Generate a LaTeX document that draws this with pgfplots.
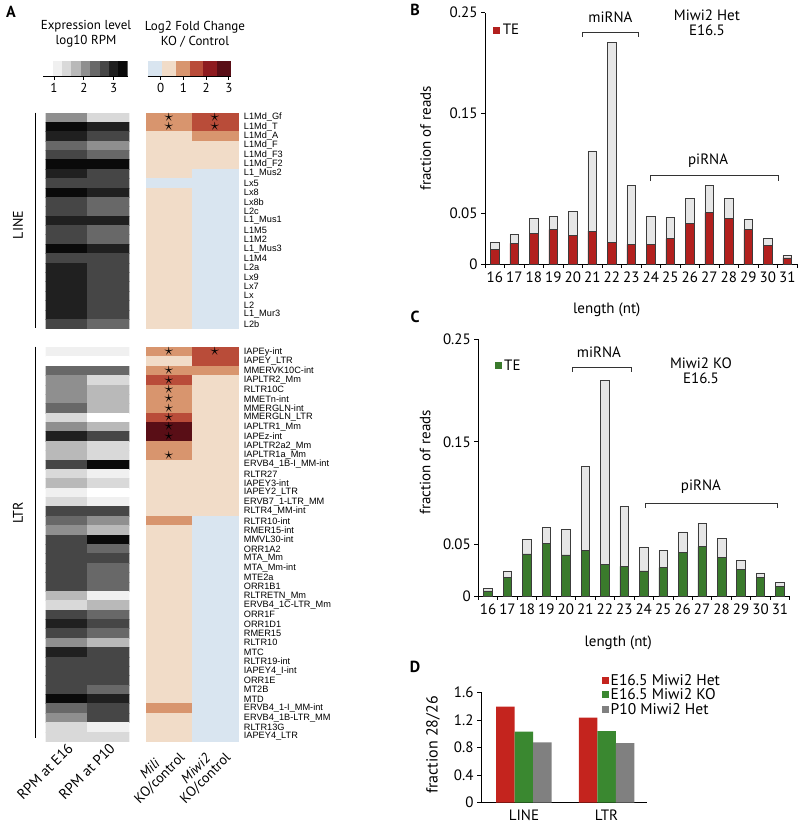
\documentclass[border=0pt]{standalone}
\usepackage{pgfplots}
\pgfplotsset{compat=1.18}
\usepackage{fontspec}
\setmainfont{PT Sans}
\newfontfamily\arial{Liberation Sans}
\definecolor{tered}{RGB}{178,32,30}
\definecolor{tegreen}{RGB}{58,122,44}
\definecolor{barfill}{RGB}{230,230,230}
\definecolor{barline}{RGB}{60,60,60}
\definecolor{dred}{RGB}{196,36,30}
\definecolor{dgreen}{RGB}{58,136,48}
\definecolor{dgray}{RGB}{128,128,128}
\definecolor{g0}{RGB}{255,255,255}
\definecolor{g1}{RGB}{240,240,240}
\definecolor{g2}{RGB}{217,217,217}
\definecolor{g3}{RGB}{185,185,185}
\definecolor{g4}{RGB}{143,143,143}
\definecolor{g5}{RGB}{104,104,104}
\definecolor{g6}{RGB}{70,70,70}
\definecolor{g7}{RGB}{32,32,32}
\definecolor{g8}{RGB}{10,10,10}
\definecolor{f0}{RGB}{217,229,240}
\definecolor{f1}{RGB}{241,220,200}
\definecolor{f2}{RGB}{216,149,110}
\definecolor{f3}{RGB}{185,76,57}
\definecolor{f4}{RGB}{142,27,31}
\definecolor{f5}{RGB}{89,14,22}
\pgfplotsset{
 colormap={greys}{rgb255=(255,255,255) rgb255=(240,240,240) rgb255=(217,217,217) rgb255=(185,185,185) rgb255=(143,143,143) rgb255=(104,104,104) rgb255=(70,70,70) rgb255=(32,32,32) rgb255=(10,10,10)},
 colormap={fc}{rgb255=(217,229,240) rgb255=(241,220,200) rgb255=(216,149,110) rgb255=(185,76,57) rgb255=(142,27,31) rgb255=(89,14,22)},
}
\begin{document}
\begin{tikzpicture}
\path[use as bounding box] (0pt,0pt) rectangle (800pt,828pt);
% ---------------- Panel D ----------------
\node[font=\bfseries\fontsize{16}{16}\selectfont] at (415pt,161.3pt) {D};
\begin{axis}[scale only axis, width=166pt, height=110.4pt, at={(481pt,25.3pt)}, anchor=south west, clip=false,
 xmin=-0.52, xmax=1.49, ymin=0, ymax=1.6,
 axis x line*=bottom, axis y line*=left, axis line style={-, line width=0.8pt, black},
 ytick={0,0.4,0.8,1.2,1.6}, yticklabels={0,0.4,0.8,1.2,1.6},
 xtick={0,1}, xticklabels={LINE,LTR}, major x tick style={draw=none},
 y tick style={line width=0.8pt, black},
 tick align=outside, major tick length=4pt,
 tick label style={font=\fontsize{15}{18}\selectfont},
 /pgf/number format/assume math mode=true,
 ylabel={fraction 28/26},
 ylabel style={at={(axis description cs:-0.289,0.523)}, anchor=center, font=\fontsize{16}{18}\selectfont},
 ybar=0pt, bar width=0.224,
 legend style={at={(0.729,1.18)}, anchor=north west, draw=none, fill=none, inner sep=0pt,
  font=\fontsize{15.5}{16}\selectfont, row sep=-1pt, nodes={inner sep=1.5pt}},
 legend cell align=left,
 legend image code/.code={\draw[#1,draw=none] (0pt,-3.5pt) rectangle (7pt,3.5pt);}]
\addplot[fill=dred, draw=none] coordinates {(0,1.392) (1,1.232)};
\addplot[fill=dgreen, draw=none] coordinates {(0,1.03) (1,1.039)};
\addplot[fill=dgray, draw=none] coordinates {(0,0.875) (1,0.865)};
\legend{E16.5 Miwi2 Het, E16.5 Miwi2 KO, P10 Miwi2 Het}
\end{axis}
% ---------------- Panel B ----------------
\node[font=\bfseries\fontsize{16}{16}\selectfont] at (415pt,818pt) {B};
\begin{axis}[scale only axis, width=312pt, height=251.3pt, at={(485pt,564pt)}, anchor=south west, clip=false,
 xmin=15.5, xmax=31.5, ymin=0, ymax=0.25,
 axis x line*=bottom, axis y line*=left, axis line style={-, line width=0.8pt, black},
 xtick={16,...,31}, major x tick style={draw=none},
 minor xtick={15.5,16.5,...,31.5}, minor tick style={line width=0.8pt, black},
 minor tick length=4pt, major tick length=4pt, tick align=outside,
 y tick style={line width=0.8pt, black},
 ytick={0,0.05,0.15,0.25}, yticklabels={0,0.05,0.15,0.25},
 tick label style={font=\fontsize{15}{18}\selectfont},
 /pgf/number format/assume math mode=true,
 xlabel={length (nt)}, ylabel={fraction of reads},
 xlabel style={at={(axis description cs:0.39,-0.183)}, anchor=center, font=\fontsize{15}{18}\selectfont},
 ylabel style={at={(axis description cs:-0.19,0.5)}, anchor=center, font=\fontsize{15}{18}\selectfont},
 legend style={at={(0.026,0.931)}, anchor=west, draw=none, fill=none, inner sep=0pt, nodes={inner sep=2.5pt}, font=\fontsize{15}{18}\selectfont},
 legend image code/.code={\draw[#1,draw=none] (0pt,-3.5pt) rectangle (7pt,3.5pt);}]
\addplot[ybar, bar width=0.44, bar shift=0pt, fill=barfill, draw=barline, line width=0.6pt, forget plot] coordinates {
(16,0.0215) (17,0.0295) (18,0.045) (19,0.0473) (20,0.0523) (21,0.1126) (22,0.2205) (23,0.078)
(24,0.0473) (25,0.0464) (26,0.0656) (27,0.078) (28,0.0656) (29,0.0444) (30,0.0252) (31,0.0086)};
\addplot[ybar, bar width=0.44, bar shift=0pt, fill=tered, draw=barline, line width=0.6pt] coordinates {
(16,0.0149) (17,0.0205) (18,0.0305) (19,0.0341) (20,0.0285) (21,0.0328) (22,0.0215) (23,0.0195)
(24,0.0195) (25,0.0252) (26,0.0407) (27,0.051) (28,0.0454) (29,0.0341) (30,0.0182) (31,0.006)};
\addlegendentry{TE}
\draw[line width=0.8pt, black!80] (axis cs:20.47,0.226) -- (axis cs:20.47,0.2305) -- (axis cs:23.39,0.2305) -- (axis cs:23.39,0.226);
\node[font=\fontsize{15}{18}\selectfont] at (axis cs:21.93,0.2457) {miRNA};
\node[align=center, font=\fontsize{15}{15}\selectfont] at (axis cs:26.88,0.2402) {Miwi2 Het\\E16.5};
\draw[line width=0.8pt, black!80] (axis cs:24.0,0.0825) -- (axis cs:24.0,0.0878) -- (axis cs:30.57,0.0878) -- (axis cs:30.57,0.0825);
\node[font=\fontsize{15}{18}\selectfont] at (axis cs:26.94,0.1024) {piRNA};
\end{axis}
% ---------------- Panel C ----------------
\node[font=\bfseries\fontsize{16}{16}\selectfont] at (415pt,511.3pt) {C};
\begin{axis}[scale only axis, width=311.4pt, height=257pt, at={(478.3pt,232pt)}, anchor=south west, clip=false,
 xmin=15.5, xmax=31.5, ymin=0, ymax=0.25,
 axis x line*=bottom, axis y line*=left, axis line style={-, line width=0.8pt, black},
 xtick={16,...,31}, major x tick style={draw=none},
 minor xtick={15.5,16.5,...,31.5}, minor tick style={line width=0.8pt, black},
 minor tick length=4pt, major tick length=4pt, tick align=outside,
 y tick style={line width=0.8pt, black},
 ytick={0,0.05,0.15,0.25}, yticklabels={0,0.05,0.15,0.25},
 tick label style={font=\fontsize{15}{18}\selectfont},
 /pgf/number format/assume math mode=true,
 xlabel={length (nt)}, ylabel={fraction of reads},
 xlabel style={at={(axis description cs:0.449,-0.183)}, anchor=center, font=\fontsize{15}{18}\selectfont},
 ylabel style={at={(axis description cs:-0.171,0.52)}, anchor=center, font=\fontsize{15}{18}\selectfont},
 legend style={at={(0.052,0.895)}, anchor=west, draw=none, fill=none, inner sep=0pt, nodes={inner sep=2.5pt}, font=\fontsize{15}{18}\selectfont},
 legend image code/.code={\draw[#1,draw=none] (0pt,-3.5pt) rectangle (7pt,3.5pt);}]
\addplot[ybar, bar width=0.44, bar shift=0pt, fill=barfill, draw=barline, line width=0.6pt, forget plot] coordinates {
(16,0.0075) (17,0.0245) (18,0.0549) (19,0.0668) (20,0.0649) (21,0.1264) (22,0.2095) (23,0.0872)
(24,0.0477) (25,0.0442) (26,0.0623) (27,0.071) (28,0.0558) (29,0.035) (30,0.0225) (31,0.013)};
\addplot[ybar, bar width=0.44, bar shift=0pt, fill=tegreen, draw=barline, line width=0.6pt] coordinates {
(16,0.005) (17,0.0178) (18,0.041) (19,0.051) (20,0.040) (21,0.0442) (22,0.0309) (23,0.0287)
(24,0.0244) (25,0.0277) (26,0.0422) (27,0.048) (28,0.0377) (29,0.026) (30,0.0178) (31,0.0093)};
\addlegendentry{TE}
\draw[line width=0.8pt, black!80] (axis cs:20.35,0.2179) -- (axis cs:20.35,0.2225) -- (axis cs:23.38,0.2225) -- (axis cs:23.38,0.2179);
\node[font=\fontsize{15}{18}\selectfont] at (axis cs:21.7,0.2367) {miRNA};
\node[align=center, font=\fontsize{15}{15}\selectfont] at (axis cs:26.94,0.2189) {Miwi2 KO\\E16.5};
\draw[line width=0.8pt, black!80] (axis cs:24.1,0.0856) -- (axis cs:24.1,0.0905) -- (axis cs:30.88,0.0905) -- (axis cs:30.88,0.0856);
\node[font=\fontsize{15}{18}\selectfont] at (axis cs:26.94,0.1063) {piRNA};
\end{axis}
% ---------------- Panel A ----------------
\node[font=\bfseries\fontsize{16}{16}\selectfont] at (11pt,816pt) {A};
\node[align=center, font=\fontsize{13}{15}\selectfont] at (86pt,794pt) {Expression level\\log10 RPM};
\node[align=center, font=\fontsize{13}{15}\selectfont] at (195pt,794pt) {Log2 Fold Change\\KO / Control};
\draw[line width=1pt] (35pt,715.3pt) -- (35pt,499.7pt);
\draw[line width=1pt] (35pt,481.3pt) -- (35pt,90pt);
\node[rotate=90, font=\fontsize{14}{14}\selectfont] at (18pt,603pt) {LINE};
\node[rotate=90, font=\fontsize{14}{14}\selectfont] at (18pt,315pt) {LTR};
% grey heatmap
\begin{axis}[scale only axis, width=83.6pt, height=628.5pt, at={(45.7pt,86.8pt)}, anchor=south west,
 xmin=-0.5, xmax=1.5, ymin=-0.5, ymax=66.5, y dir=reverse,
 axis line style={draw=none}, ytick=\empty, major tick length=0pt,
 xtick={0,1}, xticklabels={RPM at E16, RPM at P10},
 xticklabel style={rotate=45, anchor=north east, font=\fontsize{14.5}{15}\selectfont, inner sep=0.5pt},
 colormap name=greys, colormap access=direct]
\addplot[matrix plot*, mesh/cols=2, point meta=explicit] table[meta=c] {
x y c
0 0 4
1 0 2
0 1 8
1 1 7
0 2 7
1 2 6
0 3 5
1 3 4
0 4 6
1 4 5
0 5 8
1 5 8
0 6 7
1 6 6
0 7 6
1 7 6
0 8 8
1 8 7
0 9 6
1 9 5
0 10 6
1 10 5
0 11 7
1 11 7
0 12 6
1 12 5
0 13 6
1 13 5
0 14 8
1 14 7
0 15 6
1 15 6
0 16 7
1 16 6
0 17 7
1 17 6
0 18 7
1 18 6
0 19 7
1 19 6
0 20 7
1 20 6
0 21 7
1 21 6
0 22 6
1 22 5
};
\addplot[matrix plot*, mesh/cols=2, point meta=explicit] table[meta=c] {
x y c
0 25 1
1 25 1
0 26 0
1 26 0
0 27 5
1 27 5
0 28 4
1 28 2
0 29 4
1 29 3
0 30 4
1 30 3
0 31 5
1 31 3
0 32 2
1 32 0
0 33 4
1 33 3
0 34 7
1 34 6
0 35 3
1 35 2
0 36 3
1 36 2
0 37 6
1 37 8
0 38 2
1 38 1
0 39 3
1 39 2
0 40 1
1 40 0
0 41 2
1 41 1
0 42 6
1 42 6
0 43 5
1 43 4
0 44 4
1 44 3
0 45 6
1 45 8
0 46 6
1 46 5
0 47 6
1 47 6
0 48 6
1 48 5
0 49 6
1 49 5
0 50 6
1 50 5
0 51 3
1 51 1
0 52 2
1 52 3
0 53 6
1 53 5
0 54 7
1 54 6
0 55 6
1 55 5
0 56 4
1 56 3
0 57 7
1 57 6
0 58 6
1 58 6
0 59 6
1 59 6
0 60 6
1 60 6
0 61 6
1 61 5
0 62 8
1 62 7
0 63 5
1 63 6
0 64 4
1 64 6
0 65 2
1 65 1
0 66 2
1 66 2
};
\end{axis}
% fold-change heatmap
\begin{axis}[scale only axis, width=91.7pt, height=628.5pt, at={(146pt,86.8pt)}, anchor=south west,
 xmin=-0.5, xmax=1.5, ymin=-0.5, ymax=66.5, y dir=reverse, clip=false,
 axis line style={draw=none}, major tick length=0pt,
 xtick={0,1}, xticklabels={{\textit{Mili}\\KO/control},{\textit{Miwi2}\\KO/control}},
 xticklabel style={rotate=45, anchor=north east, align=center, font=\fontsize{14}{13.5}\selectfont, inner sep=0.5pt},
 ytick={0,1,...,22,25,26,...,66}, yticklabel pos=right,
 yticklabel style={font=\arial\fontsize{9.2}{9.2}\selectfont, xshift=6pt, inner sep=0pt},
 yticklabels={L1Md\_Gf, L1Md\_T, L1Md\_A, L1Md\_F, L1Md\_F3, L1Md\_F2, L1\_Mus2, Lx5, Lx8, Lx8b, L2c, L1\_Mus1, L1M5, L1M2, L1\_Mus3, L1M4, L2a, Lx9, Lx7, Lx, L2, L1\_Mur3, L2b,
 IAPEy-int, IAPEY\_LTR, MMERVK10C-int, IAPLTR2\_Mm, RLTR10C, MMETn-int, MMERGLN-int, MMERGLN\_LTR, IAPLTR1\_Mm, IAPEz-int, IAPLTR2a2\_Mm, IAPLTR1a\_Mm, ERVB4\_1B-I\_MM-int, RLTR27, IAPEY3-int, IAPEY2\_LTR, ERVB7\_1-LTR\_MM, RLTR4\_MM-int, RLTR10-int, RMER15-int, MMVL30-int, ORR1A2, MTA\_Mm, MTA\_Mm-int, MTE2a, ORR1B1, RLTRETN\_Mm, ERVB4\_1C-LTR\_Mm, ORR1F, ORR1D1, RMER15, RLTR10, MTC, RLTR19-int, IAPEY4\_I-int, ORR1E, MT2B, MTD, ERVB4\_1-I\_MM-int, ERVB4\_1B-LTR\_MM, RLTR13G, IAPEY4\_LTR},
 colormap name=fc, colormap access=direct]
\addplot[matrix plot*, mesh/cols=2, point meta=explicit] table[meta=c] {
x y c
0 0 2
1 0 3
0 1 2
1 1 3
0 2 1
1 2 2
0 3 1
1 3 1
0 4 1
1 4 1
0 5 1
1 5 1
0 6 1
1 6 0
0 7 0
1 7 0
0 8 1
1 8 0
0 9 1
1 9 0
0 10 1
1 10 0
0 11 1
1 11 0
0 12 1
1 12 0
0 13 1
1 13 0
0 14 1
1 14 0
0 15 1
1 15 0
0 16 1
1 16 0
0 17 1
1 17 0
0 18 1
1 18 0
0 19 1
1 19 0
0 20 1
1 20 0
0 21 1
1 21 0
0 22 1
1 22 0
};
\addplot[matrix plot*, mesh/cols=2, point meta=explicit] table[meta=c] {
x y c
0 25 2
1 25 3
0 26 1
1 26 3
0 27 2
1 27 2
0 28 3
1 28 1
0 29 2
1 29 1
0 30 2
1 30 1
0 31 2
1 31 1
0 32 3
1 32 1
0 33 5
1 33 1
0 34 5
1 34 1
0 35 2
1 35 1
0 36 2
1 36 1
0 37 1
1 37 1
0 38 1
1 38 1
0 39 1
1 39 1
0 40 1
1 40 1
0 41 1
1 41 1
0 42 1
1 42 1
0 43 2
1 43 0
0 44 1
1 44 0
0 45 1
1 45 0
0 46 1
1 46 0
0 47 1
1 47 0
0 48 1
1 48 0
0 49 1
1 49 0
0 50 1
1 50 0
0 51 1
1 51 0
0 52 1
1 52 0
0 53 1
1 53 0
0 54 1
1 54 0
0 55 1
1 55 0
0 56 1
1 56 0
0 57 1
1 57 0
0 58 1
1 58 0
0 59 1
1 59 0
0 60 1
1 60 0
0 61 1
1 61 0
0 62 1
1 62 0
0 63 2
1 63 0
0 64 1
1 64 0
0 65 1
1 65 0
0 66 1
1 66 0
};
\addplot[only marks, black, mark=text, text mark={\fontsize{17}{17}\selectfont$\star$}] coordinates {
(0,0) (0,1) (1,0) (1,1)
(0,25) (1,25) (0,27) (0,28) (0,29) (0,30) (0,31) (0,32) (0,33) (0,34) (0,36)};
\end{axis}
% grey colour bar
\begin{axis}[scale only axis, width=84.4pt, height=15.3pt, at={(43.3pt,752pt)}, anchor=south west,
 xmin=0.64, xmax=3.47, ymin=0, ymax=1,
 axis x line*=bottom, axis y line*=left, y axis line style={draw=none}, x axis line style={-, line width=0.8pt},
 xtick={1,2,3}, ytick=\empty, tick align=outside, major tick length=4pt,
 x tick style={line width=0.8pt, black},
 tick label style={font=\fontsize{13}{13}\selectfont}, /pgf/number format/assume math mode=true]
\addplot[ybar interval, fill=g0, draw=none] coordinates {(0.640,1) (0.954,1)};
\addplot[ybar interval, fill=g1, draw=none] coordinates {(0.954,1) (1.269,1)};
\addplot[ybar interval, fill=g2, draw=none] coordinates {(1.269,1) (1.583,1)};
\addplot[ybar interval, fill=g3, draw=none] coordinates {(1.583,1) (1.898,1)};
\addplot[ybar interval, fill=g4, draw=none] coordinates {(1.898,1) (2.212,1)};
\addplot[ybar interval, fill=g5, draw=none] coordinates {(2.212,1) (2.527,1)};
\addplot[ybar interval, fill=g6, draw=none] coordinates {(2.527,1) (2.841,1)};
\addplot[ybar interval, fill=g7, draw=none] coordinates {(2.841,1) (3.156,1)};
\addplot[ybar interval, fill=g8, draw=none] coordinates {(3.156,1) (3.470,1)};
\end{axis}
% fold-change colour bar
\begin{axis}[scale only axis, width=83.6pt, height=15.3pt, at={(147.7pt,752pt)}, anchor=south west,
 xmin=-0.574, xmax=3.11, ymin=0, ymax=1,
 axis x line*=bottom, axis y line*=left, y axis line style={draw=none}, x axis line style={-, line width=0.8pt},
 xtick={0,1,2,3}, ytick=\empty, tick align=outside, major tick length=4pt,
 x tick style={line width=0.8pt, black},
 tick label style={font=\fontsize{13}{13}\selectfont}, /pgf/number format/assume math mode=true]
\addplot[ybar interval, fill=f0, draw=none] coordinates {(-0.574,1) (0.040,1)};
\addplot[ybar interval, fill=f1, draw=none] coordinates {(0.040,1) (0.654,1)};
\addplot[ybar interval, fill=f2, draw=none] coordinates {(0.654,1) (1.268,1)};
\addplot[ybar interval, fill=f3, draw=none] coordinates {(1.268,1) (1.882,1)};
\addplot[ybar interval, fill=f4, draw=none] coordinates {(1.882,1) (2.496,1)};
\addplot[ybar interval, fill=f5, draw=none] coordinates {(2.496,1) (3.110,1)};
\end{axis}
\end{tikzpicture}
\end{document}
